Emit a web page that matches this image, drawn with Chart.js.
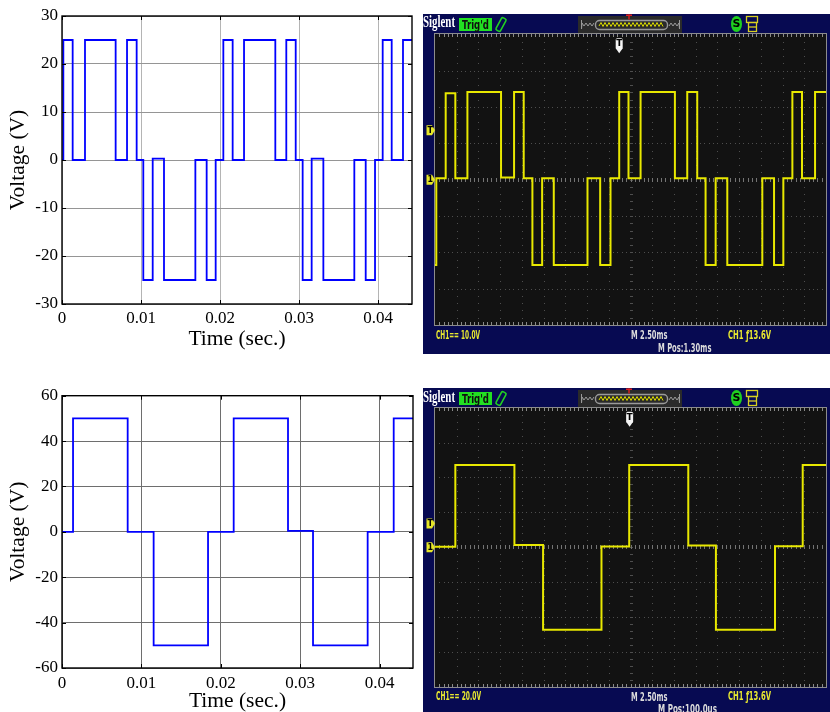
<!DOCTYPE html>
<html><head><meta charset="utf-8">
<script src="https://cdn.jsdelivr.net/npm/chart.js"></script>
<style>
html,body{margin:0;padding:0;background:#fff;}
#wrap{position:relative;width:830px;height:712px;overflow:hidden;background:#fff;}
canvas{position:absolute;}
.frame{position:absolute;background:#070a52;}
.t{position:absolute;white-space:nowrap;transform-origin:0 0;line-height:1;}
.badge{position:absolute;background:#22e022;}
</style></head><body>
<div id="wrap">
  <canvas id="simTop" width="420" height="355" style="left:0;top:0"></canvas>
  <canvas id="simBot" width="420" height="342" style="left:0;top:370px"></canvas>
  <div class="frame" style="left:423px;top:14px;width:407px;height:340px"></div>
  <div class="frame" style="left:423px;top:388px;width:407px;height:324px"></div>
  <canvas id="scopeTop" width="407" height="340" style="left:423px;top:14px"></canvas>
  <canvas id="scopeBot" width="407" height="324" style="left:423px;top:388px"></canvas>
  <div class="badge" style="left:459px;top:18px;width:33px;height:13px"></div>
  <div class="badge" style="left:459px;top:392px;width:33px;height:13px"></div>
</div>
<script>
// ---------- data ----------
// simulated waveform, top-left (time in s, voltage in V)
const simTopT = [0, 0.00017, 0.00135, 0.00291, 0.00679, 0.00823, 0.00945, 0.01029, 0.01148, 0.01291, 0.01688, 0.01831, 0.01945, 0.02042, 0.02160, 0.02304, 0.02700, 0.02839, 0.02958, 0.03046, 0.03160, 0.03308, 0.03700, 0.03844, 0.03962, 0.04059, 0.04173, 0.04316, 0.0443];
const simTopV = [0, 25, 0, 25, 0, 25, 0, -25, 0.3, -25, 0, -25, 0, 25, 0, 25, 0, 25, 0, -25, 0.3, -25, 0, -25, 0, 25, 0, 25, 25];
const simTopYTicks = [-30, -20, -10, 0, 10, 20, 30];
// simulated waveform, bottom-left
const simBotT = [0, 0.00139, 0.00827, 0.01154, 0.01839, 0.02162, 0.02846, 0.03161, 0.03849, 0.04177, 0.0442];
const simBotV = [0, 50, 0, -50, 0, 50, 0.4, -50, 0, 50, 50];
const simBotYTicks = [-60, -40, -20, 0, 20, 40, 60];
const simXTicks = [0, 0.01, 0.02, 0.03, 0.04];
// oscilloscope traces (time in ms from the left screen edge, voltage in V)
const scopeTopT = [0, 0.15, 1.23, 2.34, 3.73, 7.60, 9.10, 10.21, 11.21, 12.33, 13.67, 17.55, 19.01, 20.20, 21.20, 22.27, 23.66, 27.61, 29.03, 30.18, 31.14, 32.30, 33.64, 37.67, 39.02, 40.09, 41.13, 42.24, 43.74, 45];
const scopeTopV = [-23.5, 0.4, 23.8, 0.4, 24.1, 0.6, 24.1, 0.4, -23.5, 0.4, -23.5, 0.4, -23.5, 0.4, 24.1, 0.4, 24.1, 0.4, 24.1, 0.4, -23.5, 0.4, -23.5, 0.4, -23.5, 0.4, 24.1, 0.4, 24.1, 24.1];
const scopeBotT = [0, 2.34, 9.14, 12.44, 19.16, 22.35, 29.15, 32.33, 39.13, 42.32, 45];
const scopeBotV = [0.3, 47.1, 1.2, -47.4, 0.4, 47.1, 1.0, -47.4, 0.6, 47.1, 47.1];
const scopeTopSettings = {vdiv: 10, mpos: 1.30, trig: 13.6};
const scopeBotSettings = {vdiv: 20, mpos: 0.10, trig: 13.6};

function pts(T, V) { return T.map((t, i) => ({x: t, y: V[i]})); }

// ---------- MATLAB-style box + inward ticks ----------
const boxTicks = {
  id: 'boxTicks',
  afterDatasetsDraw(chart) {
    const {ctx, chartArea: a, scales: {x, y}} = chart;
    ctx.save();
    ctx.strokeStyle = '#000'; ctx.lineWidth = 1;
    ctx.beginPath();
    x.ticks.forEach(t => {
      const px = Math.round(x.getPixelForValue(t.value)) + 0.5;
      ctx.moveTo(px, a.bottom); ctx.lineTo(px, a.bottom - 4);
      ctx.moveTo(px, a.top); ctx.lineTo(px, a.top + 4);
    });
    y.ticks.forEach(t => {
      const py = Math.round(y.getPixelForValue(t.value)) + 0.5;
      ctx.moveTo(a.left, py); ctx.lineTo(a.left + 4, py);
      ctx.moveTo(a.right, py); ctx.lineTo(a.right - 4, py);
    });
    ctx.stroke();
    ctx.lineWidth = 1.4;
    ctx.strokeRect(a.left, a.top, a.right - a.left, a.bottom - a.top);
    ctx.restore();
  }
};

function simChart(id, T, V, yTicks, xMax, o) {
  const yMin = yTicks[0], yMax = yTicks[yTicks.length - 1];
  new Chart(document.getElementById(id), {
    type: 'line',
    data: {datasets: [{data: pts(T, V), stepped: 'before', borderColor: '#0000ff', borderWidth: 1.8, pointRadius: 0, fill: false}]},
    options: {
      responsive: false, animation: false, events: [],
      layout: {padding: {top: o.padTop, right: o.padRight, left: 0, bottom: 0}},
      plugins: {legend: {display: false}, tooltip: {enabled: false}},
      scales: {
        x: {
          type: 'linear', min: 0, max: xMax,
          afterFit: s => { s.height = o.xH; },
          afterBuildTicks: s => { s.ticks = simXTicks.map(v => ({value: v})); },
          border: {display: false},
          grid: {color: o.gridX, lineWidth: 1, drawTicks: false},
          ticks: {padding: o.xTickPad, color: '#000', maxRotation: 0, autoSkip: false,
                  font: {family: 'Liberation Serif', size: 17},
                  callback: v => v === 0 ? '0' : v.toFixed(2)},
          title: {display: true, text: 'Time (sec.)', color: '#000',
                  font: {family: 'Liberation Serif', size: 21.5, lineHeight: 1},
                  padding: {top: 0, bottom: o.xTitlePad}}
        },
        y: {
          min: yMin, max: yMax,
          afterFit: s => { s.width = 62; },
          afterBuildTicks: s => { s.ticks = yTicks.map(v => ({value: v})); },
          border: {display: false},
          grid: {color: o.gridY, lineWidth: 1, drawTicks: false},
          ticks: {padding: 4, color: '#000', autoSkip: false,
                  font: {family: 'Liberation Serif', size: 17},
                  callback: v => String(v)},
          title: {display: true, text: 'Voltage (V)', color: '#000',
                  font: {family: 'Liberation Serif', size: 21.5, lineHeight: 1},
                  padding: {top: o.yTitlePad, bottom: 0}}
        }
      }
    },
    plugins: [boxTicks]
  });
}

simChart('simTop', simTopT, simTopV, simTopYTicks, 0.0443,
  {padTop: 16, padRight: 8, xH: 51, gridX: '#b4b4b4', gridY: '#959595', xTickPad: 4, xTitlePad: 4.5, yTitlePad: 7.3});
simChart('simBot', simBotT, simBotV, simBotYTicks, 0.0442,
  {padTop: 25.7, padRight: 7, xH: 44, gridX: '#6e6e6e', gridY: '#6e6e6e', xTickPad: 5, xTitlePad: 0, yTitlePad: 8});

// ---------- oscilloscope screens ----------
const scopeDeco = {
  id: 'scopeDeco',
  beforeDraw(chart) {
    const {ctx, chartArea: a} = chart;
    ctx.save();
    ctx.fillStyle = '#121212';
    ctx.fillRect(a.left, a.top, a.right - a.left, a.bottom - a.top);
    ctx.restore();
  },
  beforeDatasetsDraw(chart) {
    const {ctx, chartArea: a} = chart;
    const W = a.right - a.left, H = a.bottom - a.top, dx = W / 18, dy = H / 8;
    const dot = '#4e4e4e';
    ctx.save();
    ctx.fillStyle = dot;
    for (let i = 1; i < 18; i++) {
      const x = Math.round(a.left + i * dx);
      for (let k = 1; k < 40; k++) {
        const y = Math.round(a.top + k * dy / 5);
        if (i === 9) ctx.fillRect(x - 1, y, 3, 1); else ctx.fillRect(x, y, 1, 1);
      }
    }
    for (let j = 1; j < 8; j++) {
      const y = Math.round(a.top + j * dy);
      for (let k = 1; k < 90; k++) {
        const x = Math.round(a.left + k * dx / 5);
        if (j === 4) { ctx.fillStyle = '#747474'; ctx.fillRect(x, y - 2, 1, 4); ctx.fillStyle = dot; }
        else ctx.fillRect(x, y, 1, 1);
      }
    }
    ctx.fillStyle = '#8a8a8a';
    for (let k = 1; k < 90; k++) {
      const x = Math.round(a.left + k * dx / 5);
      ctx.fillRect(x, Math.round(a.top), 1, 3);
      ctx.fillRect(x, Math.round(a.bottom) - 3, 1, 3);
    }
    ctx.strokeStyle = '#8c8c8c'; ctx.lineWidth = 1;
    ctx.strokeRect(Math.round(a.left) - 0.5, Math.round(a.top) - 0.5, Math.round(W) + 1, Math.round(H) + 1);
    ctx.restore();
  },
  afterDraw(chart, args, opts) {
    const {ctx, chartArea: a, scales: {x, y}} = chart;
    ctx.save();
    // overview bar
    ctx.fillStyle = '#2a2a2a'; ctx.fillRect(155, 2, 104, 17);
    ctx.strokeStyle = '#9a9a9a'; ctx.lineWidth = 1;
    ctx.beginPath(); ctx.moveTo(158.5, 6); ctx.lineTo(158.5, 15);
    for (let xx = 159, up = true; xx <= 171; xx += 2, up = !up) ctx.lineTo(xx, up ? 9 : 12);
    ctx.moveTo(256.5, 6); ctx.lineTo(256.5, 15);
    for (let xx = 256, up = true; xx >= 245; xx -= 2, up = !up) ctx.lineTo(xx, up ? 9 : 12);
    ctx.stroke();
    ctx.lineWidth = 1.4;
    ctx.beginPath(); ctx.roundRect(172.5, 6.5, 72, 9, 4); ctx.stroke();
    ctx.strokeStyle = '#d6d600'; ctx.lineWidth = 1;
    ctx.beginPath(); ctx.moveTo(176, 12);
    for (let xx = 178, up = true; xx <= 241; xx += 2, up = !up) ctx.lineTo(xx, up ? 8.5 : 12.5);
    ctx.stroke();
    ctx.fillStyle = '#e02020';
    ctx.fillRect(203, 0.5, 6, 1.5); ctx.fillRect(205.3, 0.5, 1.4, 5);
    // pencil icon
    ctx.strokeStyle = '#22d022'; ctx.lineWidth = 1.6;
    ctx.save(); ctx.translate(78, 10.5); ctx.rotate(0.5);
    ctx.beginPath(); ctx.roundRect(-2.5, -7, 5, 14, 1.5); ctx.stroke(); ctx.restore();
    // S icon
    ctx.fillStyle = '#20d020';
    ctx.beginPath(); ctx.ellipse(313.5, 10, 5.5, 8, 0, 0, Math.PI * 2); ctx.fill();
    ctx.fillStyle = '#000'; ctx.font = 'bold 11px "DejaVu Sans"'; ctx.textAlign = 'center'; ctx.textBaseline = 'middle';
    ctx.fillText('S', 313.5, 10.5);
    // printer icon
    ctx.strokeStyle = '#d8d020'; ctx.lineWidth = 1.3;
    ctx.strokeRect(323.5, 2.5, 11, 6);
    ctx.strokeRect(325.5, 8.5, 8, 9);
    ctx.beginPath(); ctx.moveTo(326, 13); ctx.lineTo(333, 13); ctx.stroke();
    // trigger position marker
    const cx = x.getPixelForValue(22.5 - opts.mpos);
    const ty = a.top + 4;
    ctx.fillStyle = '#f4f4f4';
    ctx.beginPath(); ctx.roundRect(cx - 3.5, ty, 7, 11, 1.5); ctx.fill();
    ctx.beginPath(); ctx.moveTo(cx - 3.5, ty + 10); ctx.lineTo(cx + 3.5, ty + 10); ctx.lineTo(cx, ty + 15); ctx.closePath(); ctx.fill();
    ctx.fillStyle = '#000'; ctx.font = 'bold 9px "DejaVu Sans"';
    ctx.fillText('T', cx, ty + 5.5);
    // level markers on the left
    const marker = (cy, ch) => {
      ctx.fillStyle = '#e6e628';
      ctx.beginPath(); ctx.moveTo(3.5, cy - 5); ctx.lineTo(9, cy - 5); ctx.lineTo(12, cy); ctx.lineTo(9, cy + 5); ctx.lineTo(3.5, cy + 5); ctx.closePath(); ctx.fill();
      ctx.fillStyle = '#000'; ctx.font = 'bold 8px "DejaVu Sans"';
      ctx.fillText(ch, 7.3, cy + 0.5);
    };
    marker(y.getPixelForValue(opts.trig), 'T');
    marker(y.getPixelForValue(0), '1');
    ctx.restore();
  }
};

function scopeChart(id, T, V, s, pad) {
  new Chart(document.getElementById(id), {
    type: 'line',
    data: {datasets: [{data: pts(T, V), stepped: 'before', borderColor: '#e8e800', borderWidth: 2, pointRadius: 0, fill: false}]},
    options: {
      responsive: false, animation: false, events: [],
      layout: {padding: pad},
      plugins: {legend: {display: false}, tooltip: {enabled: false}, scopeDeco: s},
      scales: {
        x: {type: 'linear', min: 0, max: 45, display: false},
        y: {min: -4 * s.vdiv, max: 4 * s.vdiv, display: false}
      }
    },
    plugins: [scopeDeco]
  });
}
scopeChart('scopeTop', scopeTopT, scopeTopV, scopeTopSettings, {left: 12, top: 20.3, right: 4, bottom: 29});
scopeChart('scopeBot', scopeBotT, scopeBotV, scopeBotSettings, {left: 12, top: 19.7, right: 4, bottom: 25.3});

// ---------- scope text ----------
const wrap = document.getElementById('wrap');
function addText(txt, x, capTop, w, size, color, family, weight, k) {
  const d = document.createElement('div');
  d.className = 't'; d.textContent = txt;
  d.style.fontFamily = family; d.style.fontWeight = weight; d.style.fontSize = size + 'px';
  d.style.color = color;
  d.style.left = x + 'px'; d.style.top = (capTop - k * size) + 'px';
  wrap.appendChild(d);
  const nat = d.getBoundingClientRect().width;
  d.style.transform = 'scaleX(' + (w / nat).toFixed(3) + ')';
}
const SANS = '"DejaVu Sans"', SERIF = '"Liberation Serif"';
const YEL = '#e8e830', GRY = '#dcdcdc';
[[0, '10.0V', '1.30ms'], [374.3, '20.0V', '100.0us']].forEach(([dy, vd, mp], n) => {
  addText('Siglent', 423, 17.3 + dy, 32, 16.5, '#ffffff', SERIF, 'bold', 0.175);
  addText("Trig'd", 462, 20.5 + dy, 27, 12, '#101010', SANS, 'bold', 0.117);
  const by = n === 0 ? 330.3 : 691.7;
  addText('CH1== ' + vd, 436, by, n === 0 ? 44 : 45, 12.7, YEL, SANS, 'bold', 0.117);
  addText('M 2.50ms', 631, by + 0.6, 36.5, 12.7, GRY, SANS, 'bold', 0.117);
  addText('CH1 \u0192' + '13.6V', 728, by, 43, 12.7, YEL, SANS, 'bold', 0.117);
  addText('M Pos:' + mp, 658, by + 13, n === 0 ? 53.5 : 59, 12.7, GRY, SANS, 'bold', 0.117);
});
</script>
</body></html>
